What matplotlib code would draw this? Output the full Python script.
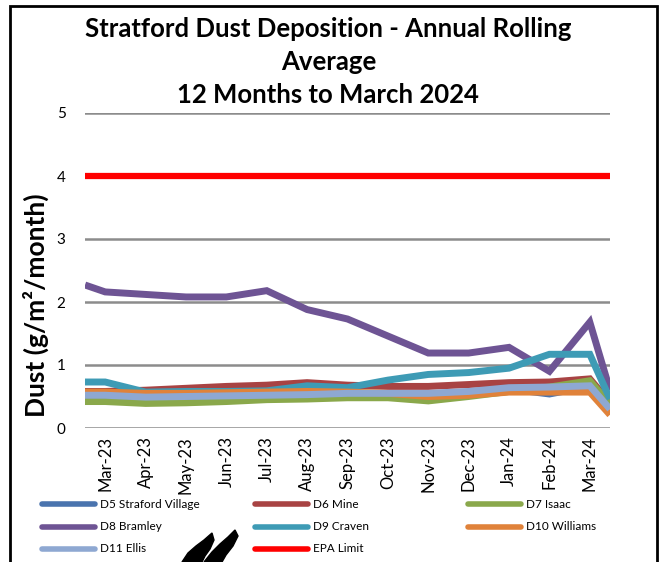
import numpy as np
import matplotlib
matplotlib.use("Agg")
import matplotlib.pyplot as plt
from matplotlib.lines import Line2D
from matplotlib.patches import Rectangle, Polygon

plt.rcParams['font.family'] = ['Lato', 'DejaVu Sans']

# month labels on the category axis
months = ['Mar-23', 'Apr-23', 'May-23', 'Jun-23', 'Jul-23', 'Aug-23', 'Sep-23',
          'Oct-23', 'Nov-23', 'Dec-23', 'Jan-24', 'Feb-24', 'Mar-24']

# rolling averages (g/m2/month); first and last values are the lead-in / tail at the axis edges
d5 = [0.50, 0.50, 0.48, 0.49, 0.50, 0.51, 0.52, 0.54, 0.54, 0.54, 0.57, 0.62, 0.54, 0.66, 0.33]
d6 = [0.58, 0.58, 0.60, 0.63, 0.66, 0.68, 0.72, 0.68, 0.66, 0.66, 0.69, 0.72, 0.73, 0.78, 0.40]
d7 = [0.42, 0.42, 0.39, 0.40, 0.42, 0.45, 0.46, 0.48, 0.48, 0.43, 0.50, 0.58, 0.65, 0.75, 0.38]
d8 = [2.27, 2.16, 2.12, 2.08, 2.08, 2.18, 1.88, 1.73, 1.46, 1.19, 1.19, 1.28, 0.90, 1.68, 0.60]
d9 = [0.73, 0.73, 0.57, 0.58, 0.58, 0.59, 0.67, 0.64, 0.76, 0.85, 0.88, 0.95, 1.17, 1.17, 0.46]
d10 = [0.57, 0.57, 0.55, 0.55, 0.56, 0.57, 0.58, 0.57, 0.55, 0.50, 0.52, 0.57, 0.57, 0.57, 0.21]
d11 = [0.52, 0.52, 0.49, 0.50, 0.51, 0.52, 0.53, 0.55, 0.55, 0.55, 0.58, 0.64, 0.65, 0.67, 0.30]
epa_limit = 4.0

series = [
    ('D5 Straford Village', d5, '#4A74AE'),
    ('D6 Mine', d6, '#A84343'),
    ('D7 Isaac', d7, '#8AA84B'),
    ('D8 Bramley', d8, '#6E5494'),
    ('D9 Craven', d9, '#3E9BB5'),
    ('D10 Williams', d10, '#E0823A'),
    ('D11 Ellis', d11, '#8EA8D2'),
]

W, H = 666, 562
fig = plt.figure(figsize=(W / 100, H / 100), dpi=100)
ax = fig.add_axes([85 / W, 1 - 428 / H, 525 / W, 315 / H])

n = len(months)
xs = np.r_[-0.5, np.arange(n), n - 0.5]

for name, vals, col in series:
    ax.plot(xs, vals, color=col, lw=5, solid_joinstyle='miter', solid_capstyle='butt')
ax.plot([-0.5, n - 0.5], [epa_limit, epa_limit], color='#FF0000', lw=4.5, solid_capstyle='butt')

ax.set_xlim(-0.5, n - 0.5)
ax.set_ylim(0, 5)
ax.set_yticks(range(6))
ax.set_xticks(range(n))
ax.set_xticklabels(months, rotation=90, fontsize=12)
ax.tick_params(axis='both', length=0, colors='black')
ax.tick_params(axis='y', labelsize=11, pad=14)
ax.tick_params(axis='x', pad=6)
ax.grid(axis='y', color='#8C8C8C', lw=1.8)
ax.set_axisbelow(True)
for s in ax.spines.values():
    s.set_visible(False)

ax.set_ylabel('Dust (g/m²/month)', fontsize=19, fontweight='bold')
ax.yaxis.set_label_coords(-0.068, 0.39)

title_kw = dict(ha='center', va='center', fontsize=18.5, fontweight='bold')
fig.text(0.493, 1 - 29 / H, 'Stratford Dust Deposition - Annual Rolling', **title_kw)
fig.text(0.493, 1 - 62 / H, 'Average', **title_kw)
fig.text(0.493, 1 - 95 / H, '12 Months to March 2024', **title_kw)

# legend laid out row by row like the original
entries = [(name, col) for name, _, col in series] + [('EPA Limit', '#FF0000')]
col_x = [42, 255, 468]
row_y = [504, 527, 549]
for i, (name, col) in enumerate(entries):
    cx = col_x[i % 3]
    cy = row_y[i // 3]
    fig.add_artist(Line2D([cx / W, (cx + 53) / W], [1 - cy / H, 1 - cy / H], color=col, lw=4,
                          solid_capstyle='round'))
    fig.text((cx + 58) / W, 1 - cy / H, name, ha='left', va='center', fontsize=8.5)

# chart frame
fig.add_artist(Rectangle((10 / W, -0.05), 647 / W, 1.05 - 6 / H, fill=False, ec='black', lw=2,
                         transform=fig.transFigure))

# partial logo at the bottom (two leaning flames)
flames = [
    [(182, 562), (188, 553), (196, 546), (204, 540), (212, 533), (214, 540), (210, 549),
     (205, 556), (202, 562)],
    [(204, 562), (212, 552), (220, 544), (228, 537), (235, 530), (238, 536), (233, 546),
     (226, 555), (222, 562)],
]
for pts in flames:
    fig.add_artist(Polygon([(x / W, 1 - y / H) for x, y in pts], closed=True, fc='black',
                           ec='black', transform=fig.transFigure))

fig.savefig('out.png', dpi=100)
